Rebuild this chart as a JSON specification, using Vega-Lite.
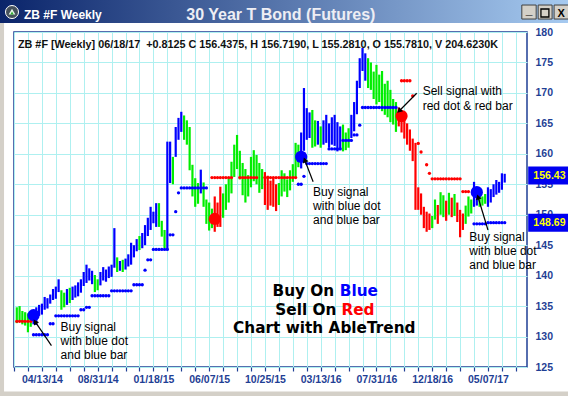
{
  "$schema": "https://vega.github.io/schema/vega-lite/v6.json",
  "width": 513,
  "height": 335,
  "autosize": {"type": "none"},
  "padding": {"left": 14, "top": 32, "right": 41, "bottom": 29},
  "background": "#ffffff",
  "config": {"view": {"stroke": "#1f3f95", "strokeWidth": 1.5}, "font": "Liberation Sans", "legend": {"disable": true}},
  "resolve": {"axis": {"x": "independent", "y": "independent"}},
  "datasets": {
    "bars": [
      {"date":"2014-02-09","low":132.2,"high":134.8,"trend":"green"},
      {"date":"2014-02-16","low":132.5,"high":135.0,"trend":"green"},
      {"date":"2014-02-23","low":132.0,"high":134.2,"trend":"green"},
      {"date":"2014-03-02","low":131.8,"high":134.0,"trend":"green"},
      {"date":"2014-03-09","low":130.7,"high":133.8,"trend":"green"},
      {"date":"2014-03-16","low":131.6,"high":134.2,"trend":"green"},
      {"date":"2014-03-23","low":132.0,"high":134.3,"trend":"blue"},
      {"date":"2014-03-30","low":131.9,"high":134.8,"trend":"blue"},
      {"date":"2014-04-06","low":133.4,"high":135.2,"trend":"blue"},
      {"date":"2014-04-13","low":133.6,"high":135.4,"trend":"blue"},
      {"date":"2014-04-20","low":134.4,"high":136.5,"trend":"blue"},
      {"date":"2014-04-27","low":134.6,"high":136.3,"trend":"blue"},
      {"date":"2014-05-04","low":135.4,"high":136.9,"trend":"blue"},
      {"date":"2014-05-11","low":136.0,"high":137.8,"trend":"blue"},
      {"date":"2014-05-18","low":136.2,"high":138.2,"trend":"blue"},
      {"date":"2014-05-25","low":137.3,"high":139.4,"trend":"blue"},
      {"date":"2014-06-01","low":134.4,"high":137.6,"trend":"green"},
      {"date":"2014-06-08","low":134.8,"high":137.2,"trend":"green"},
      {"date":"2014-06-15","low":135.2,"high":137.8,"trend":"blue"},
      {"date":"2014-06-22","low":135.5,"high":138.0,"trend":"green"},
      {"date":"2014-06-29","low":136.0,"high":138.2,"trend":"blue"},
      {"date":"2014-07-06","low":136.4,"high":138.4,"trend":"blue"},
      {"date":"2014-07-13","low":136.6,"high":138.9,"trend":"blue"},
      {"date":"2014-07-20","low":137.2,"high":139.4,"trend":"blue"},
      {"date":"2014-07-27","low":138.3,"high":140.6,"trend":"blue"},
      {"date":"2014-08-03","low":138.8,"high":141.8,"trend":"blue"},
      {"date":"2014-08-10","low":139.2,"high":141.2,"trend":"blue"},
      {"date":"2014-08-17","low":138.6,"high":140.8,"trend":"blue"},
      {"date":"2014-08-24","low":137.3,"high":140.1,"trend":"green"},
      {"date":"2014-08-31","low":137.6,"high":139.4,"trend":"green"},
      {"date":"2014-09-07","low":138.4,"high":140.6,"trend":"blue"},
      {"date":"2014-09-14","low":139.2,"high":141.4,"trend":"blue"},
      {"date":"2014-09-21","low":139.0,"high":141.0,"trend":"blue"},
      {"date":"2014-09-28","low":139.6,"high":141.5,"trend":"blue"},
      {"date":"2014-10-05","low":139.8,"high":141.8,"trend":"blue"},
      {"date":"2014-10-12","low":141.3,"high":147.8,"trend":"blue"},
      {"date":"2014-10-19","low":140.6,"high":143.0,"trend":"green"},
      {"date":"2014-10-26","low":140.8,"high":142.4,"trend":"blue"},
      {"date":"2014-11-02","low":140.6,"high":142.6,"trend":"green"},
      {"date":"2014-11-09","low":141.0,"high":142.8,"trend":"blue"},
      {"date":"2014-11-16","low":141.5,"high":143.5,"trend":"blue"},
      {"date":"2014-11-23","low":141.8,"high":145.4,"trend":"blue"},
      {"date":"2014-11-30","low":143.0,"high":145.0,"trend":"blue"},
      {"date":"2014-12-07","low":144.0,"high":146.0,"trend":"blue"},
      {"date":"2014-12-14","low":144.2,"high":146.5,"trend":"green"},
      {"date":"2014-12-21","low":144.5,"high":147.0,"trend":"blue"},
      {"date":"2014-12-28","low":145.0,"high":148.3,"trend":"blue"},
      {"date":"2015-01-04","low":146.5,"high":149.5,"trend":"blue"},
      {"date":"2015-01-11","low":147.5,"high":151.3,"trend":"blue"},
      {"date":"2015-01-18","low":148.6,"high":150.5,"trend":"blue"},
      {"date":"2015-01-25","low":148.0,"high":151.9,"trend":"blue"},
      {"date":"2015-02-01","low":148.0,"high":151.9,"trend":"green"},
      {"date":"2015-02-08","low":146.4,"high":149.0,"trend":"green"},
      {"date":"2015-02-15","low":144.5,"high":147.5,"trend":"green"},
      {"date":"2015-02-22","low":144.3,"high":162.0,"trend":"blue"},
      {"date":"2015-03-01","low":155.2,"high":162.0,"trend":"blue"},
      {"date":"2015-03-08","low":155.0,"high":159.5,"trend":"green"},
      {"date":"2015-03-15","low":159.5,"high":164.4,"trend":"blue"},
      {"date":"2015-03-22","low":162.3,"high":165.9,"trend":"blue"},
      {"date":"2015-03-29","low":163.6,"high":166.9,"trend":"blue"},
      {"date":"2015-04-05","low":162.3,"high":166.3,"trend":"green"},
      {"date":"2015-04-12","low":161.5,"high":165.5,"trend":"green"},
      {"date":"2015-04-19","low":157.3,"high":164.4,"trend":"green"},
      {"date":"2015-04-26","low":153.0,"high":158.2,"trend":"green"},
      {"date":"2015-05-03","low":151.3,"high":156.0,"trend":"green"},
      {"date":"2015-05-10","low":151.8,"high":155.2,"trend":"green"},
      {"date":"2015-05-17","low":153.5,"high":157.4,"trend":"blue"},
      {"date":"2015-05-24","low":151.3,"high":155.3,"trend":"green"},
      {"date":"2015-05-31","low":148.5,"high":152.5,"trend":"green"},
      {"date":"2015-06-07","low":147.4,"high":152.0,"trend":"green"},
      {"date":"2015-06-14","low":147.8,"high":151.0,"trend":"green"},
      {"date":"2015-06-21","low":147.2,"high":153.0,"trend":"red"},
      {"date":"2015-06-28","low":148.0,"high":152.0,"trend":"red"},
      {"date":"2015-07-05","low":148.0,"high":154.6,"trend":"red"},
      {"date":"2015-07-12","low":149.5,"high":153.5,"trend":"green"},
      {"date":"2015-07-19","low":150.8,"high":155.0,"trend":"green"},
      {"date":"2015-07-26","low":152.0,"high":156.2,"trend":"green"},
      {"date":"2015-08-02","low":153.5,"high":158.7,"trend":"green"},
      {"date":"2015-08-09","low":156.2,"high":161.5,"trend":"green"},
      {"date":"2015-08-16","low":157.5,"high":163.1,"trend":"green"},
      {"date":"2015-08-23","low":155.8,"high":160.5,"trend":"green"},
      {"date":"2015-08-30","low":153.2,"high":158.5,"trend":"green"},
      {"date":"2015-09-06","low":152.0,"high":157.5,"trend":"green"},
      {"date":"2015-09-13","low":153.0,"high":156.5,"trend":"green"},
      {"date":"2015-09-20","low":154.5,"high":159.5,"trend":"green"},
      {"date":"2015-09-27","low":155.5,"high":160.6,"trend":"green"},
      {"date":"2015-10-04","low":155.0,"high":159.8,"trend":"green"},
      {"date":"2015-10-11","low":153.6,"high":158.5,"trend":"green"},
      {"date":"2015-10-18","low":154.2,"high":157.5,"trend":"green"},
      {"date":"2015-10-25","low":151.6,"high":157.0,"trend":"red"},
      {"date":"2015-11-01","low":150.8,"high":156.4,"trend":"red"},
      {"date":"2015-11-08","low":151.5,"high":155.6,"trend":"red"},
      {"date":"2015-11-15","low":151.3,"high":156.2,"trend":"red"},
      {"date":"2015-11-22","low":150.6,"high":155.0,"trend":"red"},
      {"date":"2015-11-29","low":151.6,"high":155.2,"trend":"green"},
      {"date":"2015-12-06","low":153.0,"high":157.3,"trend":"green"},
      {"date":"2015-12-13","low":153.8,"high":156.8,"trend":"green"},
      {"date":"2015-12-20","low":152.9,"high":155.8,"trend":"green"},
      {"date":"2015-12-27","low":154.0,"high":157.3,"trend":"green"},
      {"date":"2016-01-03","low":155.4,"high":158.3,"trend":"green"},
      {"date":"2016-01-10","low":156.2,"high":161.8,"trend":"green"},
      {"date":"2016-01-17","low":157.8,"high":161.5,"trend":"green"},
      {"date":"2016-01-24","low":157.6,"high":163.5,"trend":"blue"},
      {"date":"2016-01-31","low":160.5,"high":170.8,"trend":"blue"},
      {"date":"2016-02-07","low":162.3,"high":167.5,"trend":"blue"},
      {"date":"2016-02-14","low":162.6,"high":166.8,"trend":"blue"},
      {"date":"2016-02-21","low":161.0,"high":167.2,"trend":"green"},
      {"date":"2016-02-28","low":161.2,"high":165.5,"trend":"green"},
      {"date":"2016-03-06","low":161.5,"high":165.4,"trend":"blue"},
      {"date":"2016-03-13","low":161.0,"high":164.5,"trend":"green"},
      {"date":"2016-03-20","low":161.5,"high":165.5,"trend":"blue"},
      {"date":"2016-03-27","low":161.8,"high":166.4,"trend":"blue"},
      {"date":"2016-04-03","low":161.0,"high":165.0,"trend":"blue"},
      {"date":"2016-04-10","low":161.5,"high":166.0,"trend":"blue"},
      {"date":"2016-04-17","low":161.3,"high":166.4,"trend":"blue"},
      {"date":"2016-04-24","low":160.4,"high":165.2,"trend":"blue"},
      {"date":"2016-05-01","low":160.8,"high":164.5,"trend":"blue"},
      {"date":"2016-05-08","low":160.4,"high":164.8,"trend":"green"},
      {"date":"2016-05-15","low":160.6,"high":163.5,"trend":"green"},
      {"date":"2016-05-22","low":161.0,"high":164.2,"trend":"green"},
      {"date":"2016-05-29","low":162.6,"high":166.4,"trend":"blue"},
      {"date":"2016-06-05","low":163.7,"high":168.5,"trend":"blue"},
      {"date":"2016-06-12","low":166.5,"high":172.0,"trend":"blue"},
      {"date":"2016-06-19","low":170.8,"high":175.7,"trend":"blue"},
      {"date":"2016-06-26","low":173.6,"high":177.4,"trend":"blue"},
      {"date":"2016-07-03","low":172.0,"high":176.5,"trend":"blue"},
      {"date":"2016-07-10","low":170.8,"high":175.7,"trend":"green"},
      {"date":"2016-07-17","low":170.5,"high":175.0,"trend":"green"},
      {"date":"2016-07-24","low":169.0,"high":173.5,"trend":"green"},
      {"date":"2016-07-31","low":168.1,"high":174.6,"trend":"green"},
      {"date":"2016-08-07","low":168.5,"high":173.0,"trend":"green"},
      {"date":"2016-08-14","low":167.0,"high":173.6,"trend":"green"},
      {"date":"2016-08-21","low":166.4,"high":171.5,"trend":"green"},
      {"date":"2016-08-28","low":166.0,"high":172.0,"trend":"green"},
      {"date":"2016-09-04","low":165.2,"high":170.5,"trend":"green"},
      {"date":"2016-09-11","low":164.8,"high":169.0,"trend":"green"},
      {"date":"2016-09-18","low":163.6,"high":168.5,"trend":"green"},
      {"date":"2016-09-25","low":164.5,"high":167.6,"trend":"red"},
      {"date":"2016-10-02","low":163.5,"high":167.0,"trend":"red"},
      {"date":"2016-10-09","low":162.5,"high":166.0,"trend":"red"},
      {"date":"2016-10-16","low":161.5,"high":165.0,"trend":"red"},
      {"date":"2016-10-23","low":160.5,"high":164.0,"trend":"red"},
      {"date":"2016-10-30","low":158.8,"high":162.5,"trend":"red"},
      {"date":"2016-11-06","low":150.8,"high":161.8,"trend":"red"},
      {"date":"2016-11-13","low":150.8,"high":154.5,"trend":"red"},
      {"date":"2016-11-20","low":150.0,"high":153.5,"trend":"red"},
      {"date":"2016-11-27","low":147.8,"high":151.3,"trend":"red"},
      {"date":"2016-12-04","low":147.2,"high":150.5,"trend":"red"},
      {"date":"2016-12-11","low":147.5,"high":150.2,"trend":"red"},
      {"date":"2016-12-18","low":147.8,"high":149.8,"trend":"green"},
      {"date":"2016-12-25","low":149.2,"high":152.5,"trend":"green"},
      {"date":"2017-01-01","low":148.5,"high":151.6,"trend":"red"},
      {"date":"2017-01-08","low":150.0,"high":153.7,"trend":"green"},
      {"date":"2017-01-15","low":149.6,"high":153.2,"trend":"green"},
      {"date":"2017-01-22","low":149.0,"high":152.3,"trend":"red"},
      {"date":"2017-01-29","low":150.0,"high":153.6,"trend":"green"},
      {"date":"2017-02-05","low":149.6,"high":152.8,"trend":"red"},
      {"date":"2017-02-12","low":149.8,"high":153.4,"trend":"green"},
      {"date":"2017-02-19","low":148.8,"high":152.0,"trend":"red"},
      {"date":"2017-02-26","low":146.3,"high":150.8,"trend":"red"},
      {"date":"2017-03-05","low":147.5,"high":150.2,"trend":"red"},
      {"date":"2017-03-12","low":148.5,"high":151.5,"trend":"green"},
      {"date":"2017-03-19","low":149.7,"high":153.0,"trend":"green"},
      {"date":"2017-03-26","low":150.2,"high":152.5,"trend":"green"},
      {"date":"2017-04-02","low":151.3,"high":155.4,"trend":"blue"},
      {"date":"2017-04-09","low":151.5,"high":154.5,"trend":"blue"},
      {"date":"2017-04-16","low":151.3,"high":153.6,"trend":"green"},
      {"date":"2017-04-23","low":151.5,"high":153.0,"trend":"green"},
      {"date":"2017-04-30","low":151.8,"high":153.4,"trend":"green"},
      {"date":"2017-05-07","low":151.3,"high":154.5,"trend":"blue"},
      {"date":"2017-05-14","low":152.0,"high":154.2,"trend":"blue"},
      {"date":"2017-05-21","low":152.9,"high":155.0,"trend":"blue"},
      {"date":"2017-05-28","low":153.3,"high":155.7,"trend":"blue"},
      {"date":"2017-06-04","low":153.6,"high":155.4,"trend":"blue"},
      {"date":"2017-06-11","low":154.1,"high":156.8,"trend":"blue"},
      {"date":"2017-06-18","low":155.281,"high":156.719,"trend":"blue"}
    ],
    "stops": [
      {"date":"2014-02-09","stop":132.5,"trend":"red"},{"date":"2014-02-16","stop":132.5,"trend":"red"},{"date":"2014-02-23","stop":132.5,"trend":"red"},{"date":"2014-03-02","stop":132.5,"trend":"red"},{"date":"2014-03-09","stop":132.5,"trend":"red"},{"date":"2014-03-16","stop":132.5,"trend":"red"},
      {"date":"2014-03-23","stop":130.3,"trend":"blue"},{"date":"2014-03-30","stop":130.3,"trend":"blue"},{"date":"2014-04-06","stop":130.3,"trend":"blue"},{"date":"2014-04-13","stop":130.3,"trend":"blue"},{"date":"2014-04-20","stop":130.3,"trend":"blue"},{"date":"2014-04-27","stop":130.3,"trend":"blue"},
      {"date":"2014-05-04","stop":132.1,"trend":"blue"},{"date":"2014-05-11","stop":132.1,"trend":"blue"},
      {"date":"2014-05-18","stop":133.4,"trend":"blue"},{"date":"2014-05-25","stop":133.4,"trend":"blue"},{"date":"2014-06-01","stop":133.4,"trend":"blue"},{"date":"2014-06-08","stop":133.4,"trend":"blue"},{"date":"2014-06-15","stop":133.4,"trend":"blue"},{"date":"2014-06-22","stop":133.4,"trend":"blue"},{"date":"2014-06-29","stop":133.4,"trend":"blue"},{"date":"2014-07-06","stop":133.4,"trend":"blue"},{"date":"2014-07-13","stop":133.4,"trend":"blue"},
      {"date":"2014-07-20","stop":134.4,"trend":"blue"},{"date":"2014-07-27","stop":134.4,"trend":"blue"},
      {"date":"2014-08-03","stop":134.8,"trend":"blue"},{"date":"2014-08-10","stop":134.8,"trend":"blue"},
      {"date":"2014-08-17","stop":136.7,"trend":"blue"},{"date":"2014-08-24","stop":136.7,"trend":"blue"},{"date":"2014-08-31","stop":136.7,"trend":"blue"},{"date":"2014-09-07","stop":136.7,"trend":"blue"},{"date":"2014-09-14","stop":136.7,"trend":"blue"},{"date":"2014-09-21","stop":136.7,"trend":"blue"},{"date":"2014-09-28","stop":136.7,"trend":"blue"},
      {"date":"2014-10-05","stop":137.5,"trend":"blue"},{"date":"2014-10-12","stop":137.5,"trend":"blue"},{"date":"2014-10-19","stop":137.5,"trend":"blue"},{"date":"2014-10-26","stop":137.5,"trend":"blue"},{"date":"2014-11-02","stop":137.5,"trend":"blue"},{"date":"2014-11-09","stop":137.5,"trend":"blue"},{"date":"2014-11-16","stop":137.5,"trend":"blue"},{"date":"2014-11-23","stop":137.5,"trend":"blue"},
      {"date":"2014-11-30","stop":138.5,"trend":"blue"},{"date":"2014-12-07","stop":138.5,"trend":"blue"},{"date":"2014-12-14","stop":138.5,"trend":"blue"},{"date":"2014-12-21","stop":138.5,"trend":"blue"},
      {"date":"2014-12-28","stop":140.9,"trend":"blue"},
      {"date":"2015-01-04","stop":142.6,"trend":"blue"},{"date":"2015-01-11","stop":142.6,"trend":"blue"},
      {"date":"2015-01-18","stop":144.3,"trend":"blue"},{"date":"2015-01-25","stop":144.3,"trend":"blue"},{"date":"2015-02-01","stop":144.3,"trend":"blue"},{"date":"2015-02-08","stop":144.3,"trend":"blue"},{"date":"2015-02-15","stop":144.3,"trend":"blue"},{"date":"2015-02-22","stop":144.3,"trend":"blue"},
      {"date":"2015-03-01","stop":146.7,"trend":"blue"},{"date":"2015-03-08","stop":146.7,"trend":"blue"},
      {"date":"2015-03-15","stop":150.5,"trend":"blue"},
      {"date":"2015-03-22","stop":153.6,"trend":"blue"},
      {"date":"2015-03-29","stop":154.4,"trend":"blue"},{"date":"2015-04-05","stop":154.4,"trend":"blue"},{"date":"2015-04-12","stop":154.4,"trend":"blue"},{"date":"2015-04-19","stop":154.4,"trend":"blue"},{"date":"2015-04-26","stop":154.4,"trend":"blue"},{"date":"2015-05-03","stop":154.4,"trend":"blue"},{"date":"2015-05-10","stop":154.4,"trend":"blue"},{"date":"2015-05-17","stop":154.4,"trend":"blue"},{"date":"2015-05-24","stop":154.4,"trend":"blue"},{"date":"2015-05-31","stop":154.4,"trend":"blue"},
      {"date":"2015-06-14","stop":156.1,"trend":"red"},{"date":"2015-06-21","stop":156.1,"trend":"red"},{"date":"2015-06-28","stop":156.1,"trend":"red"},{"date":"2015-07-05","stop":156.1,"trend":"red"},{"date":"2015-07-12","stop":156.1,"trend":"red"},{"date":"2015-07-19","stop":156.1,"trend":"red"},{"date":"2015-07-26","stop":156.1,"trend":"red"},{"date":"2015-08-02","stop":156.1,"trend":"red"},
      {"date":"2015-08-23","stop":156.1,"trend":"red"},{"date":"2015-08-30","stop":156.1,"trend":"red"},{"date":"2015-09-06","stop":156.1,"trend":"red"},{"date":"2015-09-13","stop":156.1,"trend":"red"},{"date":"2015-09-20","stop":156.1,"trend":"red"},{"date":"2015-09-27","stop":156.1,"trend":"red"},{"date":"2015-10-04","stop":156.1,"trend":"red"},
      {"date":"2015-10-25","stop":156.1,"trend":"red"},{"date":"2015-11-01","stop":156.1,"trend":"red"},{"date":"2015-11-08","stop":156.1,"trend":"red"},{"date":"2015-11-15","stop":156.1,"trend":"red"},{"date":"2015-11-22","stop":156.1,"trend":"red"},{"date":"2015-11-29","stop":156.1,"trend":"red"},{"date":"2015-12-06","stop":156.1,"trend":"red"},{"date":"2015-12-13","stop":156.1,"trend":"red"},{"date":"2015-12-20","stop":156.1,"trend":"red"},{"date":"2015-12-27","stop":156.1,"trend":"red"},{"date":"2016-01-03","stop":156.1,"trend":"red"},{"date":"2016-01-10","stop":156.1,"trend":"red"},
      {"date":"2016-01-17","stop":155.0,"trend":"blue"},{"date":"2016-01-24","stop":155.0,"trend":"blue"},
      {"date":"2016-01-31","stop":156.3,"trend":"blue"},
      {"date":"2016-02-07","stop":158.4,"trend":"blue"},{"date":"2016-02-14","stop":158.4,"trend":"blue"},{"date":"2016-02-21","stop":158.4,"trend":"blue"},{"date":"2016-02-28","stop":158.4,"trend":"blue"},{"date":"2016-03-06","stop":158.4,"trend":"blue"},{"date":"2016-03-13","stop":158.4,"trend":"blue"},{"date":"2016-03-20","stop":158.4,"trend":"blue"},{"date":"2016-03-27","stop":158.4,"trend":"blue"},
      {"date":"2016-04-03","stop":160.8,"trend":"blue"},{"date":"2016-04-10","stop":160.8,"trend":"blue"},{"date":"2016-04-17","stop":160.8,"trend":"blue"},{"date":"2016-04-24","stop":160.8,"trend":"blue"},{"date":"2016-05-01","stop":160.8,"trend":"blue"},
      {"date":"2016-05-08","stop":162.2,"trend":"blue"},{"date":"2016-05-15","stop":162.2,"trend":"blue"},{"date":"2016-05-22","stop":162.2,"trend":"blue"},{"date":"2016-05-29","stop":162.2,"trend":"blue"},
      {"date":"2016-06-05","stop":163.1,"trend":"blue"},{"date":"2016-06-12","stop":163.1,"trend":"blue"},
      {"date":"2016-06-19","stop":164.7,"trend":"blue"},
      {"date":"2016-06-26","stop":167.6,"trend":"blue"},{"date":"2016-07-03","stop":167.6,"trend":"blue"},{"date":"2016-07-10","stop":167.6,"trend":"blue"},{"date":"2016-07-17","stop":167.6,"trend":"blue"},{"date":"2016-07-24","stop":167.6,"trend":"blue"},{"date":"2016-07-31","stop":167.6,"trend":"blue"},{"date":"2016-08-07","stop":167.6,"trend":"blue"},{"date":"2016-08-14","stop":167.6,"trend":"blue"},{"date":"2016-08-21","stop":167.6,"trend":"blue"},{"date":"2016-08-28","stop":167.6,"trend":"blue"},{"date":"2016-09-04","stop":167.6,"trend":"blue"},{"date":"2016-09-11","stop":167.6,"trend":"blue"},{"date":"2016-09-18","stop":167.6,"trend":"blue"},
      {"date":"2016-10-02","stop":172.0,"trend":"red"},{"date":"2016-10-09","stop":172.0,"trend":"red"},{"date":"2016-10-16","stop":172.0,"trend":"red"},{"date":"2016-10-23","stop":172.0,"trend":"red"},
      {"date":"2016-10-30","stop":169.5,"trend":"red"},
      {"date":"2016-11-13","stop":161.7,"trend":"red"},
      {"date":"2016-11-20","stop":160.3,"trend":"red"},
      {"date":"2016-12-04","stop":158.2,"trend":"red"},
      {"date":"2016-12-11","stop":156.8,"trend":"red"},
      {"date":"2016-12-18","stop":155.9,"trend":"red"},{"date":"2016-12-25","stop":155.9,"trend":"red"},{"date":"2017-01-01","stop":155.9,"trend":"red"},{"date":"2017-01-08","stop":155.9,"trend":"red"},{"date":"2017-01-15","stop":155.9,"trend":"red"},{"date":"2017-01-22","stop":155.9,"trend":"red"},{"date":"2017-01-29","stop":155.9,"trend":"red"},{"date":"2017-02-05","stop":155.9,"trend":"red"},{"date":"2017-02-12","stop":155.9,"trend":"red"},{"date":"2017-02-19","stop":155.9,"trend":"red"},{"date":"2017-02-26","stop":155.9,"trend":"red"},
      {"date":"2017-03-05","stop":153.8,"trend":"red"},{"date":"2017-03-12","stop":153.8,"trend":"red"},{"date":"2017-03-19","stop":153.8,"trend":"red"},
      {"date":"2017-04-02","stop":148.5,"trend":"blue"},{"date":"2017-04-09","stop":148.5,"trend":"blue"},{"date":"2017-04-16","stop":148.5,"trend":"blue"},{"date":"2017-04-23","stop":148.5,"trend":"blue"},{"date":"2017-04-30","stop":148.5,"trend":"blue"},
      {"date":"2017-05-07","stop":148.69,"trend":"blue"},{"date":"2017-05-14","stop":148.69,"trend":"blue"},{"date":"2017-05-21","stop":148.69,"trend":"blue"},{"date":"2017-05-28","stop":148.69,"trend":"blue"},{"date":"2017-06-04","stop":148.69,"trend":"blue"},{"date":"2017-06-11","stop":148.69,"trend":"blue"},{"date":"2017-06-18","stop":148.69,"trend":"blue"}
    ],
    "signals": [
      {"date":"2014-03-23","price":133.5,"trend":"blue"},
      {"date":"2015-06-21","price":149.3,"trend":"red"},
      {"date":"2016-01-24","price":159.5,"trend":"blue"},
      {"date":"2016-10-02","price":166.2,"trend":"red"},
      {"date":"2017-04-09","price":153.7,"trend":"blue"}
    ]
  },
  "layer": [
    {
      "data": {"name": "bars"},
      "mark": {"type": "rule", "strokeWidth": 2.2},
      "encoding": {
        "x": {
          "field": "date", "type": "temporal", "title": null,
          "scale": {"type": "utc", "nice": false, "domain": [1391299200000, 1502582400000]},
          "axis": {
            "values": [1391299200000,1394323200000,1397347200000,1400371200000,1403395200000,1406419200000,1409443200000,1412467200000,1415491200000,1418515200000,1421539200000,1424563200000,1427587200000,1430611200000,1433635200000,1436659200000,1439683200000,1442707200000,1445731200000,1448755200000,1451779200000,1454803200000,1457827200000,1460851200000,1463875200000,1466899200000,1469923200000,1472947200000,1475971200000,1478995200000,1482019200000,1485043200000,1488067200000,1491091200000,1494115200000,1497139200000,1500163200000],
            "labelExpr": "indexof(['04/13/14','08/31/14','01/18/15','06/07/15','10/25/15','03/13/16','07/31/16','12/18/16','05/07/17'], utcFormat(datum.value, '%m/%d/%y')) >= 0 ? utcFormat(datum.value, '%m/%d/%y') : ''",
            "grid": true, "gridColor": "#aef0f0", "gridWidth": 1,
            "domain": false, "tickColor": "#1f3f95", "tickSize": 4, "tickWidth": 1.2,
            "labelColor": "#1f3f95", "labelFont": "Liberation Sans", "labelFontSize": 10.5, "labelFontWeight": "bold",
            "labelPadding": 3, "labelOverlap": false, "labelFlush": false
          }
        },
        "y": {"field": "low", "type": "quantitative", "title": null,
          "scale": {"domain": [125, 180], "nice": false, "zero": false},
          "axis": {"orient": "right", "values": [125,130,135,140,145,150,155,160,165,170,175,180], "grid": true, "gridColor": "#aef0f0", "gridWidth": 1, "domain": false, "ticks": false,
            "labelColor": "#1f3f95", "labelFont": "Liberation Sans", "labelFontSize": 10.5, "labelFontWeight": "bold", "labelPadding": 8, "labelFlush": false, "labelOverlap": false, "labelAlign": "left", "labelBaseline": "middle"}},
        "y2": {"field": "high"},
        "color": {"field": "trend", "type": "nominal", "legend": null,
          "scale": {"domain": ["blue","green","red"], "range": ["#0000ff","#00ee00","#ff0000"]}}
      }
    },
    {
      "data": {"name": "stops"},
      "mark": {"type": "circle", "size": 11, "opacity": 1},
      "encoding": {
        "x": {"field": "date", "type": "temporal", "title": null, "axis": null},
        "y": {"field": "stop", "type": "quantitative", "title": null, "axis": null},
        "color": {"field": "trend", "type": "nominal", "legend": null}
      }
    },
    {
      "data": {"name": "signals"},
      "mark": {"type": "circle", "size": 150, "opacity": 1},
      "encoding": {
        "x": {"field": "date", "type": "temporal", "title": null, "axis": null},
        "y": {"field": "price", "type": "quantitative", "title": null, "axis": null},
        "color": {"field": "trend", "type": "nominal", "legend": null}
      }
    },
    {
      "data": {"values": [{}]},
      "mark": {"type": "rule", "color": "#000000", "strokeWidth": 1.2},
      "encoding": {
        "x": {"datum": 1399420800000, "type": "temporal", "axis": null},
        "x2": {"datum": 1395878400000},
        "y": {"datum": 128.5, "type": "quantitative", "axis": null},
        "y2": {"datum": 132.44}
      }
    },
    {
      "data": {"values": [{}]},
      "mark": {"type": "point", "shape": "triangle-up", "size": 36, "filled": true, "opacity": 1, "color": "#000000", "angle": 325.8},
      "encoding": {
        "x": {"datum": 1395878400000, "type": "temporal", "axis": null},
        "y": {"datum": 132.44, "type": "quantitative", "axis": null}
      }
    },
    {
      "data": {"values": [{}]},
      "mark": {"type": "rule", "color": "#000000", "strokeWidth": 1.2},
      "encoding": {
        "x": {"datum": 1456185600000, "type": "temporal", "axis": null},
        "x2": {"datum": 1454371200000},
        "y": {"datum": 155.42, "type": "quantitative", "axis": null},
        "y2": {"datum": 158.99}
      }
    },
    {
      "data": {"values": [{}]},
      "mark": {"type": "point", "shape": "triangle-up", "size": 36, "filled": true, "opacity": 1, "color": "#000000", "angle": 338.8},
      "encoding": {
        "x": {"datum": 1454371200000, "type": "temporal", "axis": null},
        "y": {"datum": 158.99, "type": "quantitative", "axis": null}
      }
    },
    {
      "data": {"values": [{}]},
      "mark": {"type": "rule", "color": "#000000", "strokeWidth": 1.2},
      "encoding": {
        "x": {"datum": 1478649600000, "type": "temporal", "axis": null},
        "x2": {"datum": 1474848000000},
        "y": {"datum": 169.94, "type": "quantitative", "axis": null},
        "y2": {"datum": 167.03}
      }
    },
    {
      "data": {"values": [{}]},
      "mark": {"type": "point", "shape": "triangle-up", "size": 36, "filled": true, "opacity": 1, "color": "#000000", "angle": 224.7},
      "encoding": {
        "x": {"datum": 1474848000000, "type": "temporal", "axis": null},
        "y": {"datum": 167.03, "type": "quantitative", "axis": null}
      }
    },
    {
      "data": {"values": [{}]},
      "mark": {"type": "rule", "color": "#000000", "strokeWidth": 1.2},
      "encoding": {
        "x": {"datum": 1494115200000, "type": "temporal", "axis": null},
        "x2": {"datum": 1491955200000},
        "y": {"datum": 147.49, "type": "quantitative", "axis": null},
        "y2": {"datum": 152.91}
      }
    },
    {
      "data": {"values": [{}]},
      "mark": {"type": "point", "shape": "triangle-up", "size": 36, "filled": true, "opacity": 1, "color": "#000000", "angle": 343.1},
      "encoding": {
        "x": {"datum": 1491955200000, "type": "temporal", "axis": null},
        "y": {"datum": 152.91, "type": "quantitative", "axis": null}
      }
    },
    {
      "data": {"values": [{}]},
      "mark": {"type": "text", "font": "Liberation Sans", "fontSize": 12, "align": "left", "baseline": "alphabetic", "lineBreak": "\n", "lineHeight": 14, "color": "#000000"},
      "encoding": {
        "x": {"datum": 1401408000000, "type": "temporal", "axis": null},
        "y": {"datum": 130.96, "type": "quantitative", "axis": null},
        "text": {"value": "Buy signal\nwith blue dot\nand blue bar"}
      }
    },
    {
      "data": {"values": [{}]},
      "mark": {"type": "text", "font": "Liberation Sans", "fontSize": 12, "align": "left", "baseline": "alphabetic", "lineBreak": "\n", "lineHeight": 14, "color": "#000000"},
      "encoding": {
        "x": {"datum": 1456185600000, "type": "temporal", "axis": null},
        "y": {"datum": 153.12, "type": "quantitative", "axis": null},
        "text": {"value": "Buy signal\nwith blue dot\nand blue bar"}
      }
    },
    {
      "data": {"values": [{}]},
      "mark": {"type": "text", "font": "Liberation Sans", "fontSize": 12, "align": "left", "baseline": "alphabetic", "lineBreak": "\n", "lineHeight": 15, "color": "#000000"},
      "encoding": {
        "x": {"datum": 1479945600000, "type": "temporal", "axis": null},
        "y": {"datum": 169.66, "type": "quantitative", "axis": null},
        "text": {"value": "Sell signal with\nred dot & red bar"}
      }
    },
    {
      "data": {"values": [{}]},
      "mark": {"type": "text", "font": "Liberation Sans", "fontSize": 12, "align": "left", "baseline": "alphabetic", "lineBreak": "\n", "lineHeight": 14.3, "color": "#000000"},
      "encoding": {
        "x": {"datum": 1490054400000, "type": "temporal", "axis": null},
        "y": {"datum": 145.74, "type": "quantitative", "axis": null},
        "text": {"value": "Buy signal\nwith blue dot\nand blue bar"}
      }
    },
    {
      "data": {"values": [{}]},
      "mark": {"type": "text", "font": "DejaVu Sans", "fontWeight": "bold", "fontSize": 15.3, "align": "left", "baseline": "alphabetic", "color": "#000000"},
      "encoding": {
        "x": {"datum": 1447372800000, "type": "temporal", "axis": null},
        "y": {"datum": 136.7, "type": "quantitative", "axis": null},
        "text": {"value": "Buy On"}
      }
    },
    {
      "data": {"values": [{}]},
      "mark": {"type": "text", "font": "DejaVu Sans", "fontWeight": "bold", "fontSize": 15.3, "align": "left", "baseline": "alphabetic", "color": "#0000ff"},
      "encoding": {
        "x": {"datum": 1461974400000, "type": "temporal", "axis": null},
        "y": {"datum": 136.7, "type": "quantitative", "axis": null},
        "text": {"value": "Blue"}
      }
    },
    {
      "data": {"values": [{}]},
      "mark": {"type": "text", "font": "DejaVu Sans", "fontWeight": "bold", "fontSize": 15.3, "align": "left", "baseline": "alphabetic", "color": "#000000"},
      "encoding": {
        "x": {"datum": 1447977600000, "type": "temporal", "axis": null},
        "y": {"datum": 133.53, "type": "quantitative", "axis": null},
        "text": {"value": "Sell On"}
      }
    },
    {
      "data": {"values": [{}]},
      "mark": {"type": "text", "font": "DejaVu Sans", "fontWeight": "bold", "fontSize": 15.3, "align": "left", "baseline": "alphabetic", "color": "#ff0000"},
      "encoding": {
        "x": {"datum": 1462320000000, "type": "temporal", "axis": null},
        "y": {"datum": 133.53, "type": "quantitative", "axis": null},
        "text": {"value": "Red"}
      }
    },
    {
      "data": {"values": [{}]},
      "mark": {"type": "text", "font": "DejaVu Sans", "fontWeight": "bold", "fontSize": 15.3, "align": "left", "baseline": "alphabetic", "color": "#000000"},
      "encoding": {
        "x": {"datum": 1438819200000, "type": "temporal", "axis": null},
        "y": {"datum": 130.53, "type": "quantitative", "axis": null},
        "text": {"value": "Chart with AbleTrend"}
      }
    },
    {
      "data": {"values": [{}]},
      "mark": {"type": "text", "font": "Liberation Sans", "fontWeight": "bold", "fontSize": 10.8, "align": "left", "baseline": "alphabetic", "color": "#111111"},
      "encoding": {
        "x": {"datum": 1392163200000, "type": "temporal", "axis": null},
        "y": {"datum": 177.32, "type": "quantitative", "axis": null},
        "text": {"value": "ZB #F [Weekly] 06/18/17\u00a0 +0.8125 C 156.4375, H 156.7190, L 155.2810, O 155.7810, V 204.6230K"}
      }
    },
    {
      "data": {"values": [{}]},
      "mark": {"type": "rect", "clip": false, "color": "#0000f0"},
      "encoding": {
        "x": {"datum": 1502841600000, "type": "temporal", "axis": null},
        "x2": {"datum": 1511654400000},
        "y": {"datum": 157.92, "type": "quantitative", "axis": null},
        "y2": {"datum": 154.96}
      }
    },
    {
      "data": {"values": [{}]},
      "mark": {"type": "text", "clip": false, "font": "Liberation Sans", "fontWeight": "bold", "fontSize": 10.5, "align": "left", "baseline": "middle", "color": "#ffff00"},
      "encoding": {
        "x": {"datum": 1503964800000, "type": "temporal", "axis": null},
        "y": {"datum": 156.4375, "type": "quantitative", "axis": null},
        "text": {"value": "156.43"}
      }
    },
    {
      "data": {"values": [{}]},
      "mark": {"type": "rect", "clip": false, "color": "#0000f0"},
      "encoding": {
        "x": {"datum": 1502841600000, "type": "temporal", "axis": null},
        "x2": {"datum": 1511654400000},
        "y": {"datum": 150.17, "type": "quantitative", "axis": null},
        "y2": {"datum": 147.21}
      }
    },
    {
      "data": {"values": [{}]},
      "mark": {"type": "text", "clip": false, "font": "Liberation Sans", "fontWeight": "bold", "fontSize": 10.5, "align": "left", "baseline": "middle", "color": "#ffff00"},
      "encoding": {
        "x": {"datum": 1503964800000, "type": "temporal", "axis": null},
        "y": {"datum": 148.69, "type": "quantitative", "axis": null},
        "text": {"value": "148.69"}
      }
    },
    {
      "data": {"values": [{}]},
      "mark": {"type": "rect", "clip": false, "fill": {"gradient": "linear", "x1": 0, "y1": 0, "x2": 1, "y2": 0, "stops": [{"offset": 0, "color": "#0a246a"}, {"offset": 1, "color": "#a6caf0"}]}},
      "encoding": {
        "x": {"datum": 1388102400000, "type": "temporal", "axis": null},
        "x2": {"datum": 1511654400000},
        "y": {"datum": 185.5, "type": "quantitative", "axis": null},
        "y2": {"datum": 181.48}
      }
    },
    {
      "data": {"values": [{}]},
      "mark": {"type": "rect", "clip": false, "color": "#d4d0c8"},
      "encoding": {
        "x": {"datum": 1388102400000, "type": "temporal", "axis": null},
        "x2": {"datum": 1389139200000},
        "y": {"datum": 181.48, "type": "quantitative", "axis": null},
        "y2": {"datum": 119.5}
      }
    },
    {
      "data": {"values": [{}]},
      "mark": {"type": "rect", "clip": false, "color": "#d4d0c8"},
      "encoding": {
        "x": {"datum": 1388102400000, "type": "temporal", "axis": null},
        "x2": {"datum": 1511654400000},
        "y": {"datum": 120.98, "type": "quantitative", "axis": null},
        "y2": {"datum": 119.5}
      }
    },
    {
      "data": {"values": [{}]},
      "mark": {"type": "circle", "clip": false, "size": 170, "opacity": 1, "color": "#46525c", "stroke": "#ffffff", "strokeWidth": 1},
      "encoding": {
        "x": {"datum": 1390867200000, "type": "temporal", "axis": null},
        "y": {"datum": 183.28, "type": "quantitative", "axis": null}
      }
    },
    {
      "data": {"values": [{}]},
      "mark": {"type": "point", "clip": false, "shape": "triangle-up", "size": 45, "filled": true, "opacity": 1, "color": "#e8f8e8"},
      "encoding": {
        "x": {"datum": 1390867200000, "type": "temporal", "axis": null},
        "y": {"datum": 183.35, "type": "quantitative", "axis": null}
      }
    },
    {
      "data": {"values": [{}]},
      "mark": {"type": "point", "clip": false, "shape": "triangle-up", "size": 12, "filled": true, "opacity": 1, "color": "#30b030"},
      "encoding": {
        "x": {"datum": 1390867200000, "type": "temporal", "axis": null},
        "y": {"datum": 183.1, "type": "quantitative", "axis": null}
      }
    },
    {
      "data": {"values": [{}]},
      "mark": {"type": "text", "clip": false, "font": "Liberation Sans", "fontWeight": "bold", "fontSize": 12, "align": "left", "baseline": "alphabetic", "color": "#ffffff"},
      "encoding": {
        "x": {"datum": 1393459200000, "type": "temporal", "axis": null},
        "y": {"datum": 182.13, "type": "quantitative", "axis": null},
        "text": {"value": "ZB #F Weekly"}
      }
    },
    {
      "data": {"values": [{}]},
      "mark": {"type": "text", "clip": false, "font": "Liberation Sans", "fontWeight": "bold", "fontSize": 16, "align": "center", "baseline": "alphabetic", "color": "#eeeef4"},
      "encoding": {
        "x": {"datum": 1449187200000, "type": "temporal", "axis": null},
        "y": {"datum": 181.97, "type": "quantitative", "axis": null},
        "text": {"value": "30 Year T Bond (Futures)"}
      }
    },
    {
      "data": {"values": [{}]},
      "mark": {"type": "rect", "clip": false, "color": "#d4d0c8", "stroke": "#404040", "strokeWidth": 1},
      "encoding": {
        "x": {"datum": 1501459200000, "type": "temporal", "axis": null},
        "x2": {"datum": 1504569600000},
        "y": {"datum": 184.43, "type": "quantitative", "axis": null},
        "y2": {"datum": 182.13}
      }
    },
    {
      "data": {"values": [{}]},
      "mark": {"type": "rect", "clip": false, "color": "#d4d0c8", "stroke": "#404040", "strokeWidth": 1},
      "encoding": {
        "x": {"datum": 1505001600000, "type": "temporal", "axis": null},
        "x2": {"datum": 1508025600000},
        "y": {"datum": 184.43, "type": "quantitative", "axis": null},
        "y2": {"datum": 182.13}
      }
    },
    {
      "data": {"values": [{}]},
      "mark": {"type": "rect", "clip": false, "color": "#d4d0c8", "stroke": "#404040", "strokeWidth": 1},
      "encoding": {
        "x": {"datum": 1508457600000, "type": "temporal", "axis": null},
        "x2": {"datum": 1511654400000},
        "y": {"datum": 184.43, "type": "quantitative", "axis": null},
        "y2": {"datum": 182.13}
      }
    },
    {
      "data": {"values": [{}]},
      "mark": {"type": "rect", "clip": false, "fillOpacity": 0, "stroke": "#000000", "strokeWidth": 1.3},
      "encoding": {
        "x": {"datum": 1505606400000, "type": "temporal", "axis": null},
        "x2": {"datum": 1507334400000},
        "y": {"datum": 183.78, "type": "quantitative", "axis": null},
        "y2": {"datum": 182.46}
      }
    },
    {
      "data": {"values": [{}]},
      "mark": {"type": "text", "clip": false, "font": "Liberation Sans", "fontWeight": "bold", "fontSize": 12, "align": "center", "baseline": "alphabetic", "color": "#000000"},
      "encoding": {
        "x": {"datum": 1503014400000, "type": "temporal", "axis": null},
        "y": {"datum": 182.96, "type": "quantitative", "axis": null},
        "text": {"value": "_"}
      }
    },
    {
      "data": {"values": [{}]},
      "mark": {"type": "text", "clip": false, "font": "Liberation Sans", "fontWeight": "bold", "fontSize": 11, "align": "center", "baseline": "alphabetic", "color": "#000000"},
      "encoding": {
        "x": {"datum": 1510012800000, "type": "temporal", "axis": null},
        "y": {"datum": 182.5, "type": "quantitative", "axis": null},
        "text": {"value": "X"}
      }
    }
  ]
}
